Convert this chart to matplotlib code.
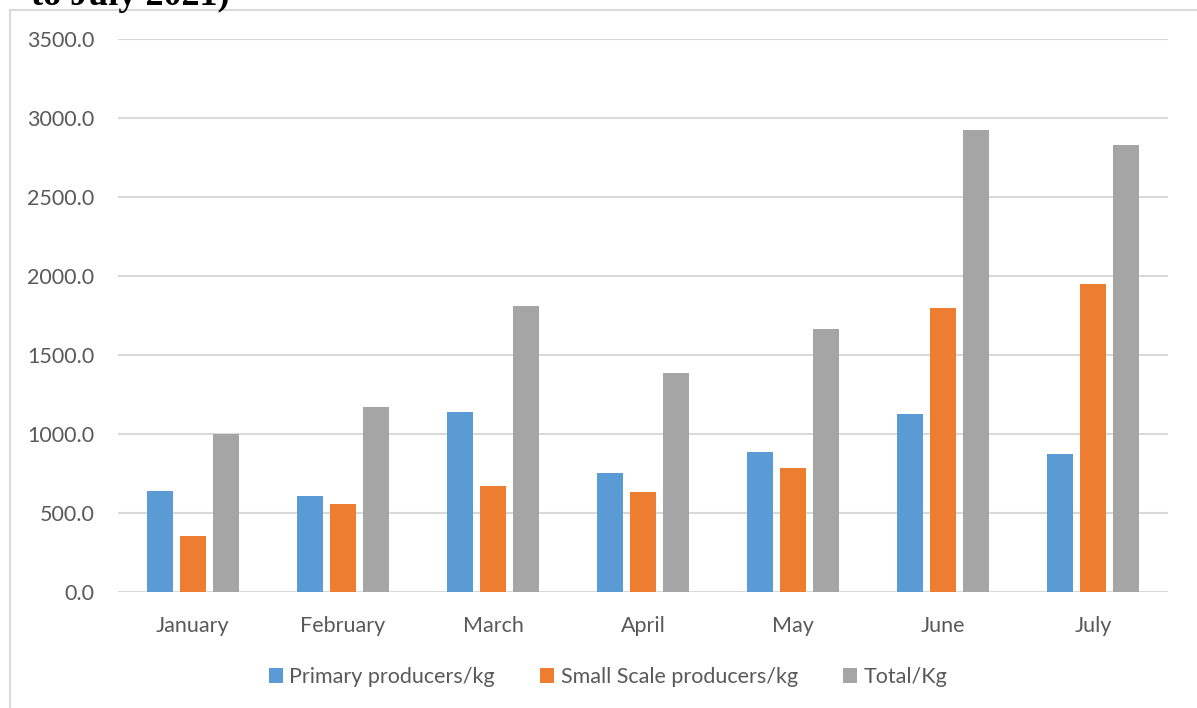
import matplotlib.pyplot as plt
import numpy as np
from matplotlib.patches import Rectangle
from matplotlib.ticker import FormatStrFormatter

months = ['January', 'February', 'March', 'April', 'May', 'June', 'July']
primary = [640, 610, 1138, 752, 887, 1126, 873]
small_scale = [354, 559, 671, 633, 784, 1798, 1950]
total = [1001, 1172, 1810, 1385, 1666, 2924, 2828]

series = ['Primary producers/kg', 'Small Scale producers/kg', 'Total/Kg']
colors = ['#5b9bd5', '#ed7d31', '#a5a5a5']

plt.rcParams['font.family'] = ['Lato', 'DejaVu Sans']

fig = plt.figure(figsize=(11.97, 7.08), dpi=100)
W, H = 1197, 708

# outer chart border (cut off by the page on the right/bottom)
fig.patches.append(Rectangle((10 / W, -0.1), 1.2, 1 - 10 / H + 0.1,
                             transform=fig.transFigure, fill=False,
                             edgecolor='#d9d9d9', lw=1.5))

# caption from the document, cut off at the top
fig.text(31 / W, 1 - 5 / H, 'to July 2021)', family='Liberation Serif',
         fontweight='bold', fontsize=26, va='baseline', ha='left')

ax = fig.add_axes([118 / W, 1 - 592 / H, 1050 / W, (592 - 39) / H])
x = np.arange(len(months))
width = 0.173
step = 0.223
for i, (vals, name, c) in enumerate(zip([primary, small_scale, total], series, colors)):
    ax.bar(x + (i - 1) * step, vals, width, color=c, label=name, zorder=3)

ax.set_xlim(-0.5, len(months) - 0.5)
ax.set_ylim(0, 3500)
ax.set_yticks(np.arange(0, 3501, 500))
ax.yaxis.set_major_formatter(FormatStrFormatter('%.1f'))
ax.set_xticks(x)
ax.set_xticklabels(months)
ax.grid(axis='y', color='#d9d9d9', lw=1.5, zorder=0)
for s in ax.spines.values():
    s.set_visible(False)
ax.tick_params(length=0, labelsize=15.5, labelcolor='#595959')
ax.tick_params(axis='x', pad=17)
ax.tick_params(axis='y', pad=17)

fig.legend(loc='center', bbox_to_anchor=(608 / W, 1 - 677 / H), ncol=3,
           frameon=False, fontsize=15.5, labelcolor='#595959',
           handlelength=0.65, handleheight=0.65, handletextpad=0.3,
           columnspacing=2.1)

fig.savefig('out.png', dpi=100)
